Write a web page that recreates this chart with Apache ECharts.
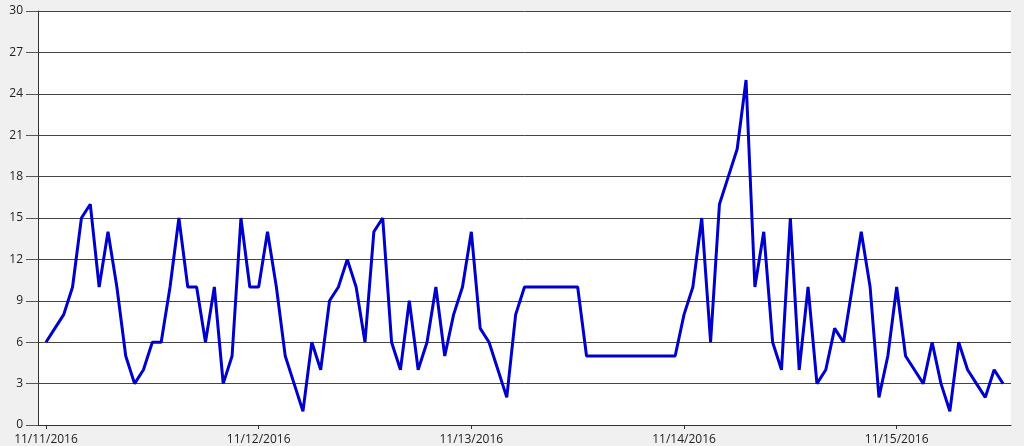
<!DOCTYPE html>
<html>
<head>
<meta charset="utf-8">
<script src="https://cdn.jsdelivr.net/npm/echarts@6/dist/echarts.min.js"></script>
<style>
html,body{margin:0;padding:0;background:#f0f0f0;}
#c{width:1024px;height:446px;}
</style>
</head>
<body>
<div id="c"></div>
<script>
// Hourly readings starting 11/11/2016 00:00
const startLabel = '11/11/2016';
const values = [
  6,7,8,10,15,16,10,14,10,5,3,4,6,6,10,15,10,10,6,10,3,5,15,10,
  10,14,10,5,3,1,6,4,9,10,12,10,6,14,15,6,4,9,4,6,10,5,8,10,
  14,7,6,4,2,8,10,10,10,10,10,10,10,5,5,5,5,5,5,5,5,5,5,5,
  8,10,15,6,16,18,20,25,10,14,6,4,15,4,10,3,4,7,6,10,14,10,2,5,
  10,5,4,3,6,3,1,6,4,3,2,4,3
];
const dayTicks = [0, 24, 48, 72, 96];
const dayLabels = ['11/11/2016','11/12/2016','11/13/2016','11/14/2016','11/15/2016'];
const yTicks = [0,3,6,9,12,15,18,21,24,27,30];

const data = values.map((v, i) => [i, v]);
const labelMap = {};
dayTicks.forEach((t, k) => { labelMap[t] = dayLabels[k]; });

const chart = echarts.init(document.getElementById('c'), null, {renderer: 'canvas'});
chart.setOption({
  backgroundColor: '#f0f0f0',
  animation: false,
  grid: {
    left: 38, right: 13, top: 11, bottom: 15,
    show: true, backgroundColor: '#ffffff', borderWidth: 0
  },
  xAxis: {
    type: 'value',
    min: -0.9, max: 108.9,
    axisLine: {show: true, onZero: false, lineStyle: {color: '#333', width: 1}},
    axisTick: {show: true, length: 4, customValues: dayTicks, lineStyle: {color: '#333'}},
    axisLabel: {
      show: true, customValues: dayTicks, margin: 9,
      fontFamily: 'Open Sans', fontSize: 12, color: '#222',
      formatter: v => labelMap[v] || ''
    },
    splitLine: {show: false}
  },
  yAxis: {
    type: 'value',
    min: 0, max: 30, interval: 3,
    axisLine: {show: true, onZero: false, lineStyle: {color: '#333', width: 1}},
    axisTick: {show: true, length: 12, lineStyle: {color: '#555'}},
    axisLabel: {show: true, margin: 15, fontFamily: 'Open Sans', fontSize: 12, color: '#222'},
    splitLine: {show: true, lineStyle: {color: '#444', width: 1}}
  },
  series: [{
    type: 'line',
    data: data,
    showSymbol: false,
    symbol: 'none',
    lineStyle: {color: '#0000cc', width: 3},
    itemStyle: {color: '#0000cc'}
  }]
});
</script>
</body>
</html>
